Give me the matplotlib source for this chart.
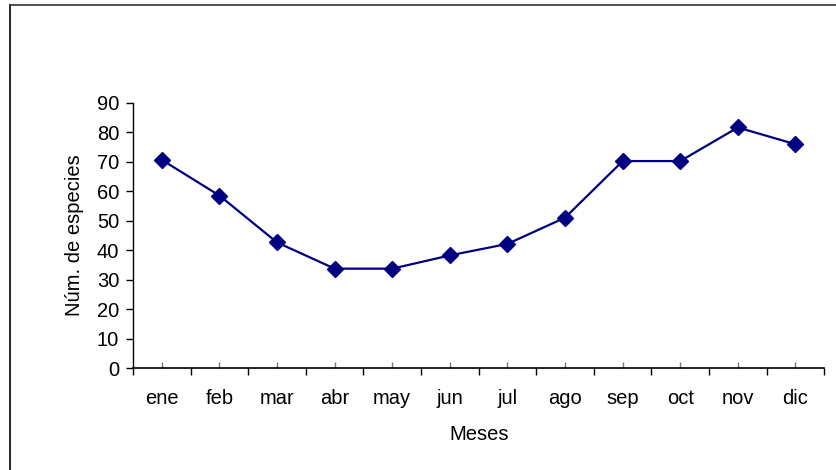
import matplotlib.pyplot as plt
from matplotlib.lines import Line2D
from matplotlib.ticker import FixedLocator

plt.rcParams['font.family'] = ['Liberation Sans', 'DejaVu Sans']

meses = ['ene', 'feb', 'mar', 'abr', 'may', 'jun', 'jul', 'ago', 'sep', 'oct', 'nov', 'dic']
especies = [70.6, 58.5, 42.6, 33.7, 33.7, 38.2, 42.1, 51.0, 70.2, 70.2, 81.6, 75.9]
y_ticks = [0, 10, 20, 30, 40, 50, 60, 70, 80, 90]

fs = 14.5

fig = plt.figure(figsize=(8.37, 4.70), dpi=100)
ax = fig.add_axes([133 / 837, 1 - 368 / 470, (824.3 - 133) / 837, (368 - 102.7) / 470])

x = list(range(len(meses)))
ax.plot(x, especies, color='#000080', linewidth=1.6, marker='D', markersize=8.5,
        markerfacecolor='#000080', markeredgecolor='#000080')

ax.set_xlim(-0.5, len(meses) - 0.5)
ax.set_ylim(0, 90)
ax.set_yticks(y_ticks)

ax.set_xticks(x)
ax.set_xticklabels(meses)
ax.xaxis.set_minor_locator(FixedLocator([i - 0.5 for i in range(len(meses) + 1)]))
ax.tick_params(axis='x', which='major', direction='in', length=4, width=1,
               color='#777777', pad=15, labelsize=fs)
ax.tick_params(axis='x', which='minor', direction='out', length=5, width=1, color='black')
ax.tick_params(axis='y', direction='out', length=5, width=1, pad=5, labelsize=fs)

for side in ['top', 'right']:
    ax.spines[side].set_visible(False)
ax.spines['left'].set_linewidth(1)
ax.spines['bottom'].set_linewidth(1.2)

ax.set_xlabel('Meses', fontsize=fs, labelpad=12)
ax.set_ylabel('Núm. de especies', fontsize=fs, labelpad=9)

# marco exterior (solo izquierda y arriba visibles)
fig.add_artist(Line2D([9.5 / 837, 9.5 / 837], [0, 1 - 5 / 470], transform=fig.transFigure,
                      color='black', linewidth=1.2))
fig.add_artist(Line2D([9.5 / 837, 1], [1 - 5 / 470, 1 - 5 / 470], transform=fig.transFigure,
                      color='#333333', linewidth=1.2))

fig.savefig('out.png', dpi=100)
